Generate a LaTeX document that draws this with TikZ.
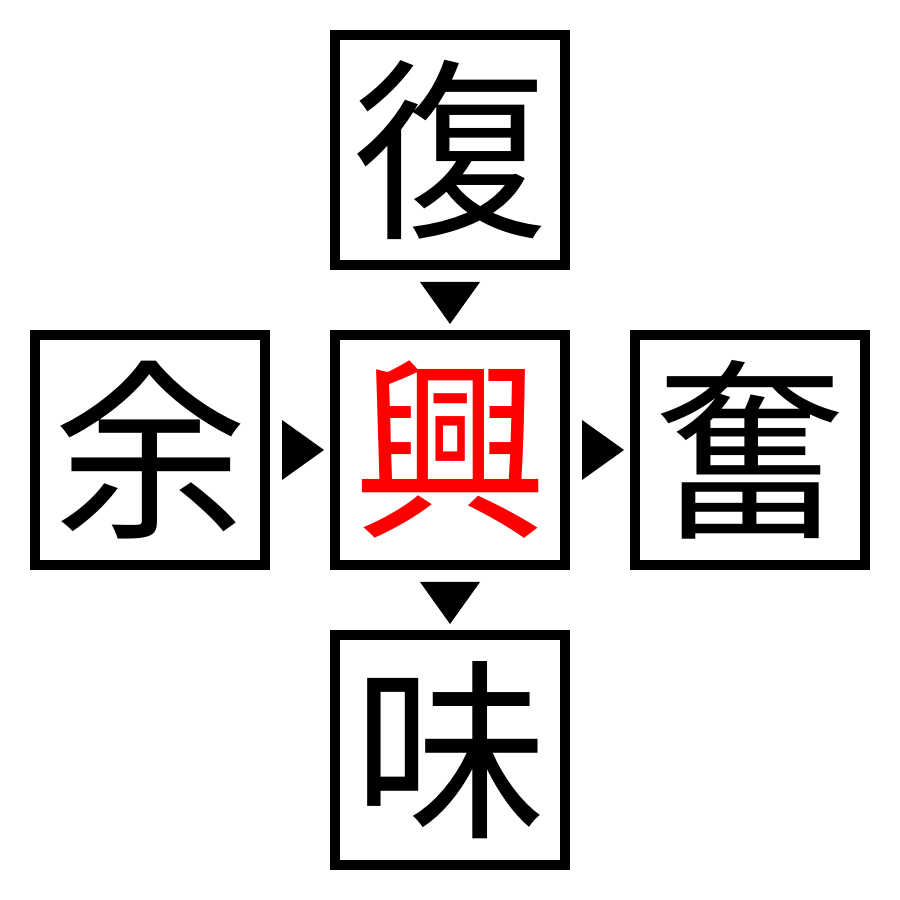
\documentclass[tikz,border=0pt]{standalone}
\usepackage{fontspec}
\newfontfamily\cjk{Noto Sans CJK JP}
\usetikzlibrary{calc}
\begin{document}
\begin{tikzpicture}[x=1pt,y=1pt,
  cell/.style={draw=black,line width=10pt,minimum size=230pt,inner sep=0pt,
    font=\cjk\fontsize{194pt}{194pt}\selectfont},
  tri/.style={fill=black}]
\useasboundingbox (0,0) rectangle (900,900);
\node[cell] (top) at (450,750) {復};
\node[cell,text=red] (ctr) at (450,450) {興};
\node[cell] (bot) at (450,150) {味};
\node[cell] (lft) at (150,450) {余};
\node[cell] (rgt) at (750,450) {奮};
\fill[tri] ($(top.south)+(-30,-12)$) -- ($(top.south)+(30,-12)$) -- ($(ctr.north)+(0,6)$) -- cycle;
\fill[tri] ($(ctr.south)+(-30,-12)$) -- ($(ctr.south)+(30,-12)$) -- ($(bot.north)+(0,6)$) -- cycle;
\fill[tri] ($(lft.east)+(12,30)$) -- ($(lft.east)+(12,-30)$) -- ($(ctr.west)+(-6,0)$) -- cycle;
\fill[tri] ($(ctr.east)+(12,30)$) -- ($(ctr.east)+(12,-30)$) -- ($(rgt.west)+(-6,0)$) -- cycle;
\end{tikzpicture}
\end{document}
